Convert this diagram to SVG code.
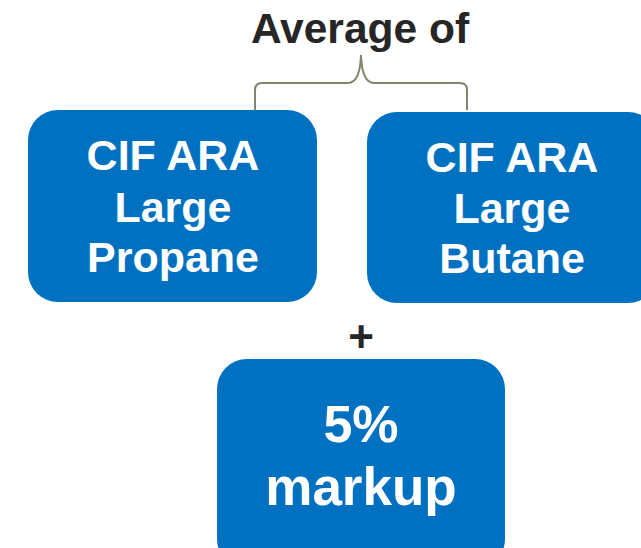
<svg xmlns="http://www.w3.org/2000/svg" width="641" height="548" viewBox="0 0 641 548">
<style>
.box{fill:#0070C0;}
.t{font-family:"Liberation Sans",Arial,sans-serif;font-weight:bold;fill:#ffffff;text-anchor:middle;font-size:43px;}
.h{font-family:"Liberation Sans",Arial,sans-serif;font-weight:bold;fill:#262626;text-anchor:middle;}
.br{fill:none;stroke:#84846e;stroke-width:2;}
</style>
<rect width="641" height="548" fill="#ffffff"/>
<text class="h" x="360" y="43" font-size="42.5">Average of</text>
<g id="connectors">
<path class="br" d="M255,110 L255,90 Q255,83 262,83 L348,83 Q360,83 361,55 Q362,83 374,83 L460,83 Q467,83 467,90 L467,110"/>
</g>
<g id="propane">
<rect class="box" x="28" y="110" width="289" height="192" rx="30" ry="30"/>
<text class="t" x="173" y="170">CIF ARA</text>
<text class="t" x="173" y="222">Large</text>
<text class="t" x="173" y="272">Propane</text>
</g>
<g id="butane">
<rect class="box" x="367" y="112" width="291" height="191" rx="30" ry="30"/>
<text class="t" x="512" y="172">CIF ARA</text>
<text class="t" x="512" y="223">Large</text>
<text class="t" x="512" y="273">Butane</text>
</g>
<text class="h" x="361" y="352" font-size="44">+</text>
<g id="markup">
<rect class="box" x="217" y="359" width="288" height="210" rx="30" ry="30"/>
<text class="t" x="361" y="442" style="font-size:52px">5%</text>
<text class="t" x="361" y="505" style="font-size:53px">markup</text>
</g>
</svg>
